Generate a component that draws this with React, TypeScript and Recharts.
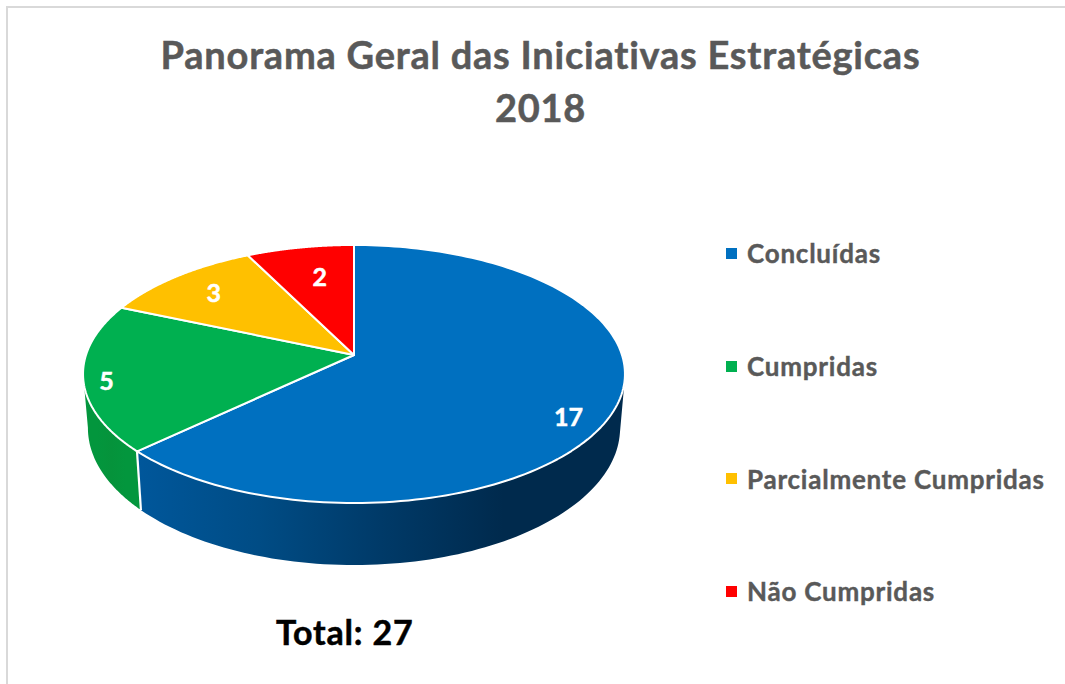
import { PieChart, Pie, Legend } from "recharts";

const CATEGORIES = ["Concluídas", "Cumpridas", "Parcialmente Cumpridas", "Não Cumpridas"];
const VALUES = [17, 5, 3, 2];
const COLORS = ["#0070c0", "#00b050", "#ffc000", "#ff0000"];
const WALL_STOPS = [
  ["#00579b", "#004c85", "#003a68", "#002a4d", "#002a4d"],
  ["#03963d", "#03963d", "#05933b", "#03963d", "#03963d"],
  ["#c79600", "#c79600", "#c79600", "#c79600", "#c79600"],
  ["#c70000", "#c70000", "#c70000", "#c70000", "#c70000"],
];
const LABEL_NUDGE = [
  [8, 19],
  [-32, 7],
  [4, 1],
  [10, 9],
];

const data = CATEGORIES.map((name, i) => ({ name, value: VALUES[i], fill: COLORS[i] }));

const FONT = "Lato, sans-serif";
const TILT = 0.471;
const PERSPECTIVE = 0.1473;

// the disc is seen at an angle, so unit circle points go through a small projection
function project(cx: number, cy: number, r: number, u: number, v: number) {
  const w = 1 + PERSPECTIVE * v;
  return { x: cx + (r * u) / w, y: cy - (r * TILT * v) / w };
}

function lower(cx: number, p: { x: number; y: number }) {
  const depth = 55 + (p.y - 390) * 0.062;
  return { x: cx + (p.x - cx) * 0.982, y: p.y + depth };
}

function toPath(pts: { x: number; y: number }[]) {
  return pts.map((p, i) => `${i ? "L" : "M"}${p.x.toFixed(2)} ${p.y.toFixed(2)}`).join(" ");
}

function Slice3D(props: any) {
  const { cx, cy, outerRadius, startAngle, endAngle, fill, index } = props;
  const n = 160;
  const arc = [];
  for (let t = 0; t <= n; t++) {
    const a = ((startAngle + ((endAngle - startAngle) * t) / n) * Math.PI) / 180;
    arc.push(project(cx, cy, outerRadius, Math.cos(a), Math.sin(a)));
  }
  // only the stretch of rim running leftwards faces the viewer
  const rim = arc.filter((p, i) => i > 0 && p.x < arc[i - 1].x);
  const endsOnSeam = rim.length > 0 && rim[rim.length - 1] === arc[n];
  const bottom = rim.map((p) => lower(cx, p));
  const stops = WALL_STOPS[index];
  return (
    <g>
      {rim.length > 1 && (
        <>
          <defs>
            <linearGradient id={`wall-${index}`} x1="0" y1="0" x2="1" y2="0">
              {stops.map((c, i) => (
                <stop key={i} offset={i / (stops.length - 1)} stopColor={c} />
              ))}
            </linearGradient>
          </defs>
          <path d={`${toPath(rim)} ${toPath([...bottom].reverse()).replace("M", "L")} Z`} fill={`url(#wall-${index})`} />
          {endsOnSeam && (
            <path d={toPath([arc[n], lower(cx, arc[n])])} stroke="#ffffff" strokeWidth={2} fill="none" />
          )}
        </>
      )}
      <path d={`M${cx} ${cy} ${toPath(arc).replace("M", "L")} Z`} fill={fill} stroke="#ffffff" strokeWidth={2} strokeLinejoin="round" />
    </g>
  );
}

function SliceLabel(props: any) {
  const { cx, cy, outerRadius, midAngle, value, index } = props;
  const a = (midAngle * Math.PI) / 180;
  const p = project(cx, cy, outerRadius, 0.8 * Math.cos(a), 0.8 * Math.sin(a));
  return (
    <text x={p.x + LABEL_NUDGE[index][0]} y={p.y + LABEL_NUDGE[index][1]} textAnchor="middle" dominantBaseline="central" fill="#ffffff" stroke="#ffffff" strokeWidth={0.5} fontFamily={FONT} fontWeight={700} fontSize={25}>
      {value}
    </text>
  );
}

function LegendList({ payload }: any) {
  return (
    <div>
      {(payload ?? []).map((item: any) => (
        <div key={item.value} style={{ height: 112.7, display: "flex", alignItems: "center", whiteSpace: "nowrap" }}>
          <span style={{ width: 11, height: 11, background: item.color, marginRight: 10 }} />
          <span style={{ fontFamily: FONT, fontWeight: 700, fontSize: 26, letterSpacing: 0.77, WebkitTextStroke: "0.4px #595959", color: "#595959" }}>{item.value}</span>
        </div>
      ))}
    </div>
  );
}

export default function App() {
  return (
    <div style={{ position: "absolute", left: 0, top: 0, width: 1065, height: 684, background: "#ffffff", overflow: "hidden", fontVariantLigatures: "none" }}>
      <div style={{ position: "absolute", left: 6, top: 6, right: 0, bottom: 0, borderLeft: "2px solid #d9d9d9", borderTop: "2px solid #d9d9d9" }} />
      <div style={{ position: "absolute", left: 0, width: 1081, top: 28, textAlign: "center", fontFamily: FONT, fontWeight: 700, fontSize: 38, letterSpacing: 0.77, WebkitTextStroke: "0.5px #595959", lineHeight: "53px", color: "#595959" }}>
        Panorama Geral das Iniciativas Estratégicas
        <br />
        2018
      </div>
      <div style={{ position: "absolute", left: 276, top: 610, fontFamily: FONT, fontWeight: 700, fontSize: 34, letterSpacing: 0.8, WebkitTextStroke: "0.5px #000000", lineHeight: "44px", color: "#000000" }}>
        Total: {VALUES.reduce((a, b) => a + b, 0)}
      </div>
      <div style={{ position: "absolute", left: 0, top: 0 }}>
        <PieChart width={1065} height={684} margin={{ top: 0, right: 0, bottom: 0, left: 0 }}>
          <Pie
            data={data}
            dataKey="value"
            nameKey="name"
            cx={354}
            cy={355}
            outerRadius={268}
            startAngle={90}
            endAngle={-270}
            shape={Slice3D}
            label={SliceLabel}
            labelLine={false}
            isAnimationActive={false}
          />
          <Legend layout="vertical" align="right" verticalAlign="top" itemSorter={null} content={LegendList} wrapperStyle={{ left: 726, top: 197, right: "auto", width: 339 }} />
        </PieChart>
      </div>
    </div>
  );
}
